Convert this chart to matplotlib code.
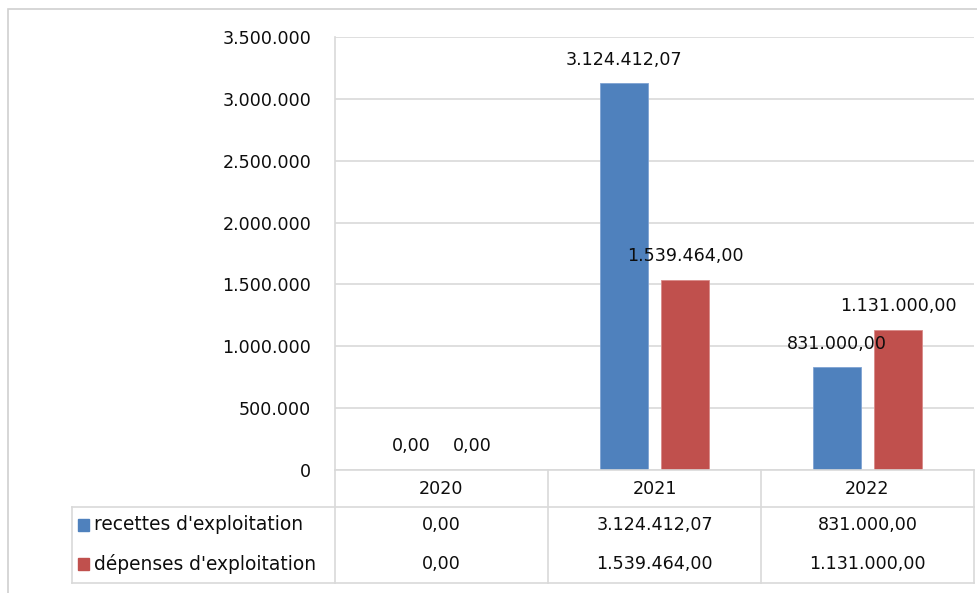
import matplotlib.pyplot as plt
from matplotlib.patches import Rectangle
from matplotlib.lines import Line2D

years = ["2020", "2021", "2022"]
recettes = [0.00, 3124412.07, 831000.00]
depenses = [0.00, 1539464.00, 1131000.00]
series_names = ["recettes d'exploitation", "dépenses d'exploitation"]
yticks = [0, 500000, 1000000, 1500000, 2000000, 2500000, 3000000, 3500000]

BLUE = "#4f81bd"
RED = "#c0504d"
GRID = "#d9d9d9"
TXT = "#0d0d0d"
FS = 12.6

plt.rcParams["font.family"] = ["DejaVu Sans"]


def fr_num(v, dec=2):
    s = f"{v:,.{dec}f}"
    return s.replace(",", " ").replace(".", ",").replace(" ", ".")


W, H = 977, 593
fig = plt.figure(figsize=(W / 100, H / 100), dpi=100)

# outer chart frame
fig.patches.append(Rectangle((8 / W, -0.1), 1.2, 1 - 9 / H + 0.1,
                             transform=fig.transFigure, fill=False,
                             edgecolor="#d0d0d0", lw=1.2))

x0, x1, y0, y1 = 335, 974, 470, 37
ax = fig.add_axes([x0 / W, 1 - y0 / H, (x1 - x0) / W, (y0 - y1) / H])

xs = list(range(len(years)))
bw, off = 0.225, 0.143
b1 = ax.bar([x - off for x in xs], recettes, bw, color=BLUE, edgecolor="#7fa3d3", lw=0.6, zorder=3)
b2 = ax.bar([x + off for x in xs], depenses, bw, color=RED, edgecolor="#d98a88", lw=0.6, zorder=3)

for bars, vals in ((b1, recettes), (b2, depenses)):
    for b, v in zip(bars, vals):
        ax.annotate(fr_num(v), (b.get_x() + b.get_width() / 2, v),
                    xytext=(0, 17), textcoords="offset points",
                    ha="center", va="center", fontsize=FS, color=TXT)

ax.set_xlim(-0.5, 2.5)
ax.set_ylim(0, 3500000)
ax.set_yticks(yticks)
ax.set_yticklabels([fr_num(t, 0) for t in yticks], fontsize=FS, color=TXT)
ax.tick_params(axis="y", length=0, pad=17)
ax.set_xticks([])
ax.yaxis.grid(True, color=GRID, lw=1.2, zorder=0)
for s in ("top", "right", "bottom"):
    ax.spines[s].set_visible(False)
ax.spines["left"].set_color(GRID)
ax.spines["left"].set_linewidth(1.2)


# data table below the axes
def fx(px):
    return px / W


def fy(py):
    return 1 - py / H


def hline(xa, xb, yy):
    fig.add_artist(Line2D([fx(xa), fx(xb)], [fy(yy), fy(yy)], color=GRID, lw=1.2))


def vline(xx, ya, yb):
    fig.add_artist(Line2D([fx(xx), fx(xx)], [fy(ya), fy(yb)], color=GRID, lw=1.2))


col_edges = [335, 548, 761, 974]
hline(335, 974, 470)
hline(72, 974, 507)
hline(72, 974, 583)
vline(72, 507, 583)
for cx in col_edges:
    vline(cx, 470, 583)

centers = [(col_edges[i] + col_edges[i + 1]) / 2 for i in range(3)]
for c, yr in zip(centers, years):
    fig.text(fx(c), fy(489), yr, ha="center", va="center", fontsize=FS, color=TXT)

rows = [(recettes, BLUE, 525), (depenses, RED, 564)]
for (vals, col, ry), name in zip(rows, series_names):
    fig.patches.append(Rectangle((fx(78), fy(ry + 6)), 11 / W, 12 / H,
                                 transform=fig.transFigure, color=col))
    fig.text(fx(94), fy(ry), name, ha="left", va="center", fontsize=13.4, color=TXT)
    for c, v in zip(centers, vals):
        fig.text(fx(c), fy(ry), fr_num(v), ha="center", va="center", fontsize=FS, color=TXT)

fig.savefig("out.png", dpi=100)
